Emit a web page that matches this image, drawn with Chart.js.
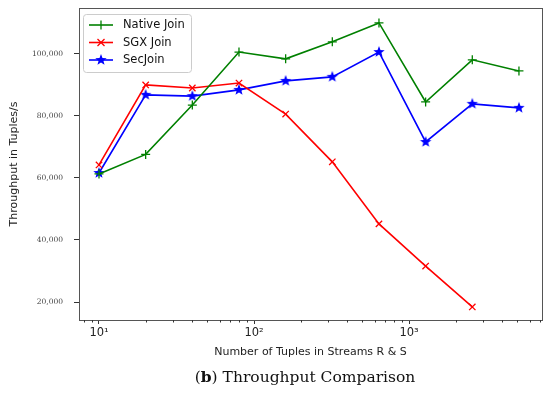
<!DOCTYPE html>
<html>
<head>
<meta charset="utf-8">
<script src="https://cdn.jsdelivr.net/npm/chart.js@4"></script>
<style>
  body { margin: 0; background: #fff; }
  #wrap { position: relative; width: 550px; height: 393px; }
  #caption { position: absolute; left: 0; width: 610px; top: 368px; line-height: 18px;
             text-align: center; font-family: "DejaVu Serif"; font-size: 15.5px; color: #111; }
</style>
</head>
<body>
<div id="wrap">
  <canvas id="myChart" width="550" height="393"></canvas>
  <div id="caption">(<b>b</b>) Throughput Comparison</div>
</div>
<script>
// values
const sizes = [10, 20, 40, 80, 160, 320, 640, 1280, 2560, 5120];
const nativeJoin = [61300, 67600, 83500, 100600, 98400, 103900, 110000, 84500, 98100, 94500];
const sgxJoin = [64200, 90000, 89000, 90600, 80600, 65200, 45200, 31600, 18400];
const secJoin = [61600, 86800, 86400, 88400, 91300, 92600, 100600, 71600, 83900, 82600];
const yTicks = [20000, 40000, 60000, 80000, 100000];
const xMajor = [10, 100, 1000];
const sup = { 10: '10\u00B9', 100: '10\u00B2', 1000: '10\u00B3' };

const toPts = (ys) => ys.map((y, i) => ({ x: sizes[i], y: y }));

// filled star marker like matplotlib '*'
function starImg(color, r) {
  const c = document.createElement('canvas');
  c.width = c.height = r * 2 + 2;
  const g = c.getContext('2d');
  g.fillStyle = color;
  g.beginPath();
  for (let k = 0; k < 10; k++) {
    const rad = k % 2 === 0 ? r : r * 0.42;
    const a = -Math.PI / 2 + k * Math.PI / 5;
    const px = r + 1 + rad * Math.cos(a), py = r + 1 + rad * Math.sin(a);
    k === 0 ? g.moveTo(px, py) : g.lineTo(px, py);
  }
  g.closePath();
  g.fill();
  return c;
}
const star = starImg('#0000ff', 6);

const series = [
  { label: 'Native Join', data: nativeJoin, color: '#008000', style: 'cross' },
  { label: 'SGX Join', data: sgxJoin, color: '#ff0000', style: 'crossRot' },
  { label: 'SecJoin', data: secJoin, color: '#0000ff', style: star }
];

const framePlugin = {
  id: 'frame',
  afterDraw(chart) {
    const { ctx, chartArea: a } = chart;
    ctx.save();
    ctx.strokeStyle = '#555';
    ctx.lineWidth = 1;
    ctx.strokeRect(a.left + 0.5, a.top + 0.5, a.right - a.left, a.bottom - a.top);
    // short minor ticks on the x axis
    const xs = chart.scales.x;
    ctx.strokeStyle = '#333';
    xs.ticks.forEach(t => {
      if (xMajor.includes(t.value)) return;
      const px = Math.round(xs.getPixelForValue(t.value)) + 0.5;
      ctx.beginPath();
      ctx.moveTo(px, a.bottom);
      ctx.lineTo(px, a.bottom + 2.5);
      ctx.stroke();
    });
    // legend box
    const bx = 83.5, by = 14.5, bw = 108, bh = 58;
    ctx.fillStyle = 'rgba(255,255,255,0.85)';
    ctx.strokeStyle = '#cccccc';
    ctx.beginPath();
    ctx.roundRect(bx, by, bw, bh, 3);
    ctx.fill();
    ctx.stroke();
    ctx.font = '11.5px "DejaVu Sans"';
    ctx.textBaseline = 'middle';
    series.forEach((s, i) => {
      const y = 25 + i * 17.5;
      ctx.strokeStyle = s.color;
      ctx.lineWidth = 1.6;
      ctx.beginPath();
      ctx.moveTo(89, y);
      ctx.lineTo(113, y);
      ctx.stroke();
      const mx = 101;
      ctx.lineWidth = 1.3;
      if (s.style === 'cross') {
        ctx.beginPath();
        ctx.moveTo(mx, y - 4.5); ctx.lineTo(mx, y + 4.5);
        ctx.stroke();
      } else if (s.style === 'crossRot') {
        ctx.beginPath();
        ctx.moveTo(mx - 3.5, y - 3.5); ctx.lineTo(mx + 3.5, y + 3.5);
        ctx.moveTo(mx + 3.5, y - 3.5); ctx.lineTo(mx - 3.5, y + 3.5);
        ctx.stroke();
      } else {
        ctx.drawImage(star, mx - star.width / 2, y - star.height / 2);
      }
      ctx.fillStyle = '#111';
      ctx.fillText(s.label, 123, y + 0.5);
    });
    ctx.restore();
  }
};

const ctx = document.getElementById('myChart');
new Chart(ctx, {
  type: 'line',
  data: {
    datasets: series.map(s => ({
      label: s.label,
      data: toPts(s.data),
      borderColor: s.color,
      backgroundColor: s.color,
      borderWidth: 1.6,
      pointStyle: s.style,
      pointRadius: 4.5,
      pointBorderWidth: 1.3,
      pointBorderColor: s.color,
      pointBackgroundColor: s.color,
      tension: 0,
      fill: false
    }))
  },
  options: {
    responsive: false,
    animation: false,
    layout: { autoPadding: false, padding: { left: 0, right: 8, top: 8, bottom: 0 } },
    plugins: { legend: { display: false }, tooltip: { enabled: false } },
    scales: {
      x: {
        type: 'logarithmic',
        min: 7.43,
        max: 7210,
        afterFit: (s) => { s.height = 73; s.paddingLeft = 0; s.paddingRight = 0; },
        afterBuildTicks: (s) => {
          const t = [];
          for (let e = 0; e <= 3; e++) {
            for (let m = 1; m <= 9; m++) {
              const v = m * Math.pow(10, e);
              if (v >= 8 && v <= 7000) t.push({ value: v });
            }
          }
          s.ticks = t;
        },
        ticks: {
          autoSkip: false,
          maxRotation: 0,
          padding: 2,
          color: '#222',
          font: { family: 'DejaVu Sans', size: 11.5 },
          callback: (v) => sup[v] || ''
        },
        grid: {
          drawOnChartArea: false,
          tickLength: 4,
          tickColor: (c) => (c.tick && xMajor.includes(c.tick.value)) ? '#333' : 'rgba(0,0,0,0)'
        },
        border: { color: '#555' },
        title: {
          display: true,
          text: 'Number of Tuples in Streams R & S',
          color: '#222',
          font: { family: 'DejaVu Sans', size: 11 },
          padding: { top: 4, bottom: 34 }
        }
      },
      y: {
        min: 14200,
        max: 114800,
        afterFit: (s) => { s.width = 79; s.paddingTop = 0; s.paddingBottom = 0; },
        afterBuildTicks: (s) => { s.ticks = yTicks.map(v => ({ value: v })); },
        ticks: {
          padding: 11,
          color: '#444',
          font: { family: 'DejaVu Serif', size: 7.5 },
          callback: (v) => v.toLocaleString('en-US')
        },
        grid: { drawOnChartArea: false, tickLength: 5, tickColor: '#333' },
        border: { color: '#555' },
        title: {
          display: true,
          text: 'Throughput in Tuples/s',
          color: '#222',
          font: { family: 'DejaVu Sans', size: 11 },
          padding: { top: 8, bottom: 0 }
        }
      }
    }
  },
  plugins: [framePlugin]
});
</script>
</body>
</html>
